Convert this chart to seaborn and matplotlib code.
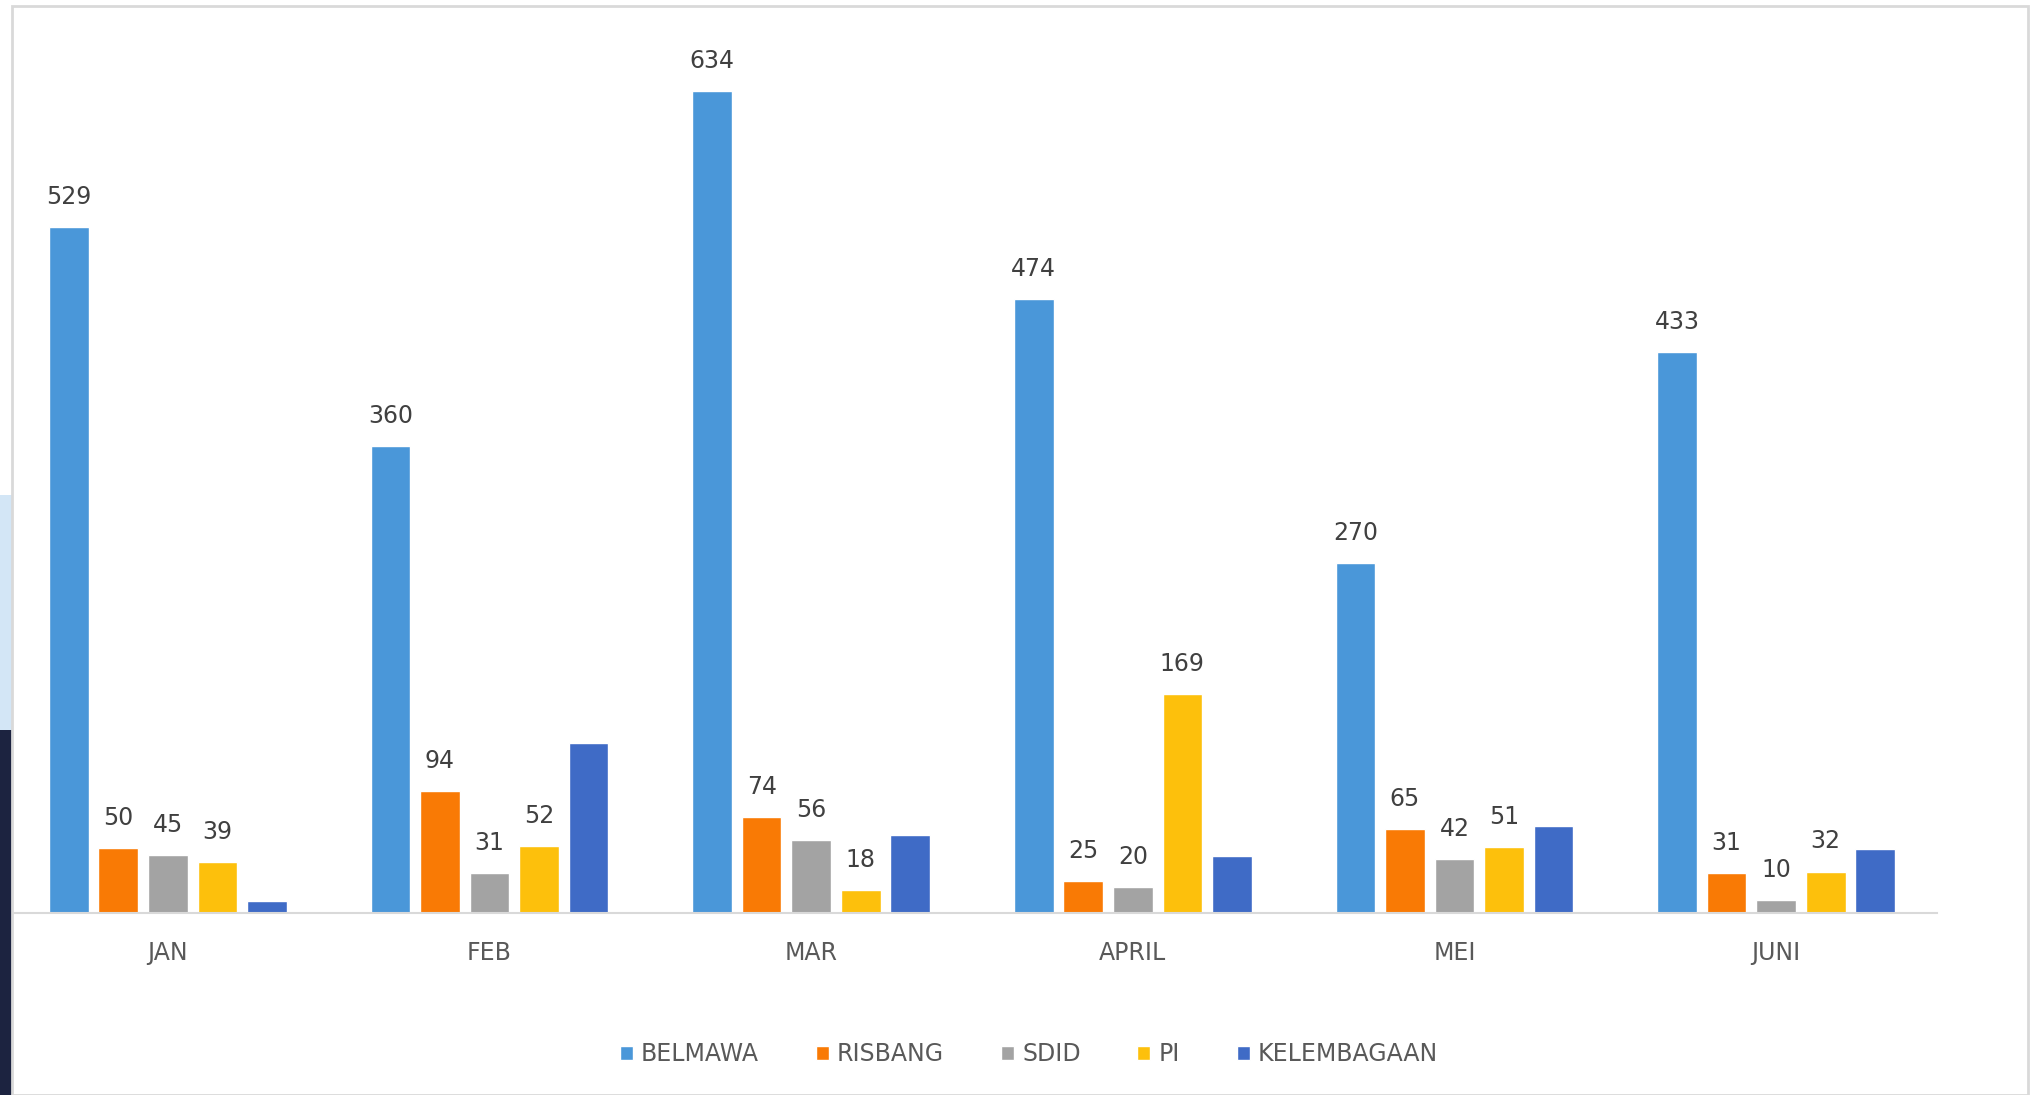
import matplotlib
matplotlib.use("Agg")
import matplotlib.pyplot as plt
import matplotlib.patches as mpatches
import seaborn as sns
import pandas as pd

months = ["JAN", "FEB", "MAR", "APRIL", "MEI", "JUNI"]
series = ["BELMAWA", "RISBANG", "SDID", "PI", "KELEMBAGAAN"]
belmawa = [529, 360, 634, 474, 270, 433]
risbang = [50, 94, 74, 25, 65, 31]
sdid = [45, 31, 56, 20, 42, 10]
pi = [39, 52, 18, 169, 51, 32]
kelembagaan = [9, 131, 60, 44, 67, 49]
colors = ["#4a97d9", "#f97a05", "#a3a3a3", "#fdc00c", "#3f6bc6"]

values = [belmawa, risbang, sdid, pi, kelembagaan]
rows = []
for s, vals in zip(series, values):
    for m, v in zip(months, vals):
        rows.append({"month": m, "series": s, "value": v})
df = pd.DataFrame(rows)

sns.set_theme(style="white")
plt.rcParams["font.family"] = ["DejaVu Sans"]

W, H = 2042, 1095
fig = plt.figure(figsize=(W / 100, H / 100), dpi=100)
fig.patch.set_facecolor("white")

# decorative background elements (screenshot frame)
fig.patches.append(mpatches.Rectangle((0, 0), 12 / W, 365 / H, transform=fig.transFigure,
                                      facecolor="#1c2340", edgecolor="none", zorder=0))
fig.patches.append(mpatches.Rectangle((0, 365 / H), 12 / W, 235 / H, transform=fig.transFigure,
                                      facecolor="#d3e6f6", edgecolor="none", zorder=0))
fig.patches.append(mpatches.Rectangle((12 / W, 0.0), (2028 - 12) / W, (1095 - 6) / H,
                                      transform=fig.transFigure, facecolor="none",
                                      edgecolor="#d9d9d9", linewidth=2, zorder=0))

ax = fig.add_axes([7 / W, (H - 913) / H, 1930 / W, (913 - 20) / H])
ax.set_facecolor("none")

sns.barplot(data=df, x="month", y="value", hue="series", hue_order=series,
            order=months, palette=colors, width=0.77, gap=0.2,
            errorbar=None, ax=ax, saturation=1, legend=True)

ax.set_ylim(0, 689)
ax.set_xlim(-0.5, 5.5)
for c in ax.containers[:4]:
    ax.bar_label(c, padding=13, fontsize=17, color="#404040")

ax.set_xlabel("")
ax.set_ylabel("")
ax.set_yticks([])
ax.tick_params(axis="x", length=0, labelsize=17, colors="#595959", pad=20)
for side in ["top", "right", "left"]:
    ax.spines[side].set_visible(False)
ax.spines["bottom"].set_color("#d9d9d9")
ax.spines["bottom"].set_linewidth(1.5)

handles, labels = ax.get_legend_handles_labels()
ax.get_legend().remove()
fig.legend(handles, labels, loc="center", bbox_to_anchor=(1029 / W, 1 - 1054 / H),
           ncol=5, frameon=False, fontsize=17, handlelength=0.55, handleheight=0.55,
           handletextpad=0.35, columnspacing=2.4, labelcolor="#595959")

fig.savefig("out.png", dpi=100, facecolor="white")
